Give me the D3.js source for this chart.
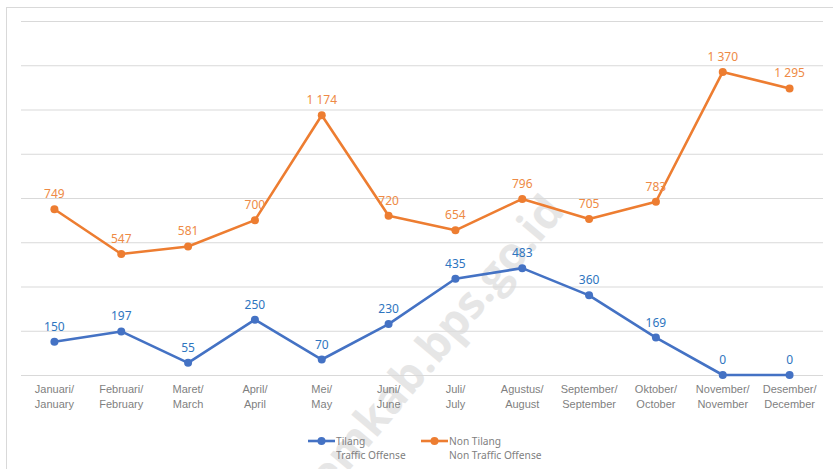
<!DOCTYPE html>
<html>
<head>
<meta charset="utf-8">
<script src="https://cdn.jsdelivr.net/npm/d3@7"></script>
<style>
  html, body { margin: 0; padding: 0; background: #fff; }
  svg { display: block; font-family: "Noto Sans", "Open Sans", sans-serif; }
</style>
</head>
<body>
<svg id="chart" width="833" height="469"></svg>
<script>
(function() {
  // month labels, Indonesian / English
  var monthsId = ['Januari/', 'Februari/', 'Maret/', 'April/', 'Mei/', 'Juni/', 'Juli/', 'Agustus/', 'September/', 'Oktober/', 'November/', 'Desember/'];
  var monthsEn = ['January', 'February', 'March', 'April', 'May', 'June', 'July', 'August', 'September', 'October', 'November', 'December'];
  var tilang = [150, 197, 55, 250, 70, 230, 435, 483, 360, 169, 0, 0];
  var nonTilang = [749, 547, 581, 700, 1174, 720, 654, 796, 705, 783, 1370, 1295];
  var gridTicks = [0, 200, 400, 600, 800, 1000, 1200, 1400, 1600];

  var series = [
    { name: 'Tilang', sub: 'Traffic Offense', values: tilang, line: '#4472c4', label: '#2e75c0', lx: 308 },
    { name: 'Non Tilang', sub: 'Non Traffic Offense', values: nonTilang, line: '#ed7d31', label: '#ee8a45', lx: 421 }
  ];

  var svg = d3.select('#chart');
  var left = 21, right = 823, top = 21, bottom = 375;

  var x = d3.scaleBand().domain(d3.range(monthsId.length)).range([left, right]);
  var y = d3.scaleLinear().domain([0, 1600]).range([bottom, top]);
  var cx = function(i) { return x(i) + x.bandwidth() / 2; };

  var fmt = d3.formatLocale({ decimal: ',', thousands: ' ', grouping: [3], currency: ['', ''] }).format(',d');

  // outer border
  svg.append('rect')
    .attr('x', 6.5).attr('y', 7.5).attr('width', 840).attr('height', 480)
    .attr('fill', 'none').attr('stroke', '#d9d9d9');

  // watermark
  svg.append('text')
    .attr('transform', 'translate(566,212) rotate(-50)')
    .attr('text-anchor', 'end')
    .attr('font-family', 'Open Sans, sans-serif')
    .attr('font-weight', 'bold')
    .attr('font-size', 45)
    .attr('fill', '#e6e6e6')
    .text('https://demkab.bps.go.id');

  // gridlines
  var grid = svg.append('g')
    .attr('transform', 'translate(' + left + ',0)')
    .call(d3.axisLeft(y).tickValues(gridTicks).tickSize(-(right - left)).tickFormat(''));
  grid.select('.domain').remove();
  grid.selectAll('line').attr('stroke', '#d9d9d9');

  // x axis labels
  var xAxis = svg.append('g')
    .attr('transform', 'translate(0,' + bottom + ')')
    .call(d3.axisBottom(x).tickSize(0).tickFormat(''));
  xAxis.select('.domain').remove();
  xAxis.selectAll('.tick').each(function(d) {
    var t = d3.select(this).append('text')
      .attr('fill', '#7f7f7f')
      .attr('font-size', 11)
      .attr('text-anchor', 'middle');
    t.append('tspan').attr('x', 0).attr('y', 18).text(monthsId[d]);
    t.append('tspan').attr('x', 0).attr('y', 33).text(monthsEn[d]);
  });

  var line = d3.line().x(function(d, i) { return cx(i); }).y(function(d) { return y(d); });

  series.forEach(function(s) {
    var g = svg.append('g');
    g.append('path')
      .attr('d', line(s.values))
      .attr('fill', 'none')
      .attr('stroke', s.line)
      .attr('stroke-width', 2.6)
      .attr('stroke-linejoin', 'round');
    g.selectAll('circle').data(s.values).enter().append('circle')
      .attr('cx', function(d, i) { return cx(i); })
      .attr('cy', function(d) { return y(d); })
      .attr('r', 4)
      .attr('fill', s.line);
    g.selectAll('text').data(s.values).enter().append('text')
      .attr('x', function(d, i) { return cx(i); })
      .attr('y', function(d) { return y(d) - 11; })
      .attr('text-anchor', 'middle')
      .attr('font-size', 12)
      .attr('fill', s.label)
      .text(function(d) { return fmt(d); });
  });

  // legend
  var legend = svg.append('g');
  series.forEach(function(s) {
    var lg = legend.append('g');
    lg.append('line')
      .attr('x1', s.lx).attr('x2', s.lx + 27).attr('y1', 441).attr('y2', 441)
      .attr('stroke', s.line).attr('stroke-width', 2.6);
    lg.append('circle').attr('cx', s.lx + 13.5).attr('cy', 441).attr('r', 4).attr('fill', s.line);
    lg.append('text').attr('x', s.lx + 28).attr('y', 445)
      .attr('font-size', 10.2).attr('fill', '#7f7f7f').text(s.name);
    lg.append('text').attr('x', s.lx + 28).attr('y', 459)
      .attr('font-size', 10.2).attr('fill', '#7f7f7f').text(s.sub);
  });
})();
</script>
</body>
</html>
